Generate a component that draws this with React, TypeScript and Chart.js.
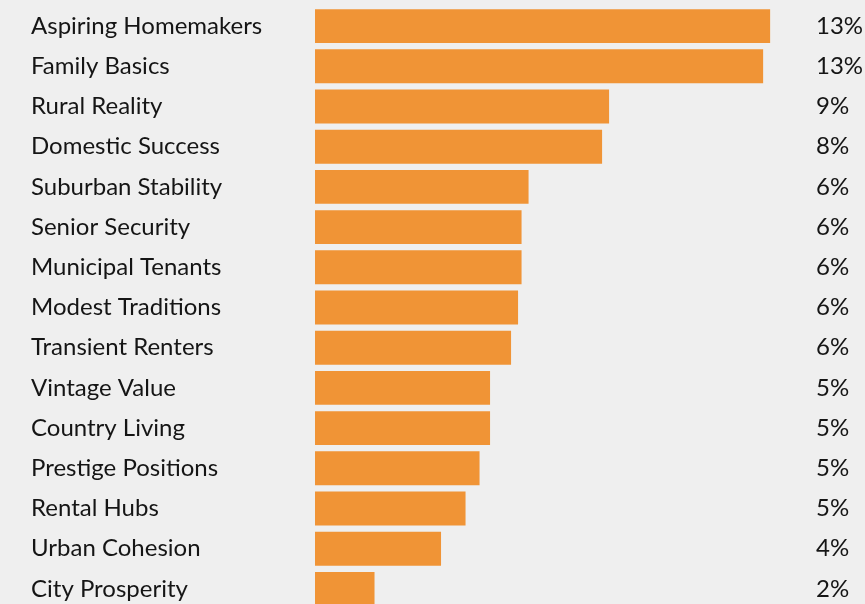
import React, { useEffect, useRef } from 'react';
import { Chart, registerables } from 'chart.js';

Chart.register(...registerables);

const categories = [
  'Aspiring Homemakers',
  'Family Basics',
  'Rural Reality',
  'Domestic Success',
  'Suburban Stability',
  'Senior Security',
  'Municipal Tenants',
  'Modest Traditions',
  'Transient Renters',
  'Vintage Value',
  'Country Living',
  'Prestige Positions',
  'Rental Hubs',
  'Urban Cohesion',
  'City Prosperity',
];

const values = [13.0, 12.8, 8.4, 8.2, 6.1, 5.9, 5.9, 5.8, 5.6, 5.0, 5.0, 4.7, 4.3, 3.6, 1.7];

const pctLabels = ['13%', '13%', '9%', '8%', '6%', '6%', '6%', '6%', '6%', '5%', '5%', '5%', '5%', '4%', '2%'];

const FONT = { family: 'Lato', size: 24, lineHeight: 0.45 };

export default function App() {
  const ref = useRef<HTMLCanvasElement | null>(null);

  useEffect(() => {
    if (!ref.current) return;
    const chart = new Chart(ref.current, {
      type: 'bar',
      data: {
        labels: categories,
        datasets: [
          {
            data: values,
            backgroundColor: '#f09436',
            borderWidth: 0,
            barPercentage: 0.843,
            categoryPercentage: 1,
          },
        ],
      },
      options: {
        indexAxis: 'y',
        animation: false,
        responsive: false,
        maintainAspectRatio: false,
        layout: { padding: { left: 31, right: 0, top: 6, bottom: 6 } },
        plugins: { legend: { display: false }, tooltip: { enabled: false } },
        scales: {
          x: { display: false, min: 0, max: 14.31 },
          y: {
            grid: { display: false, drawTicks: false },
            border: { display: false },
            ticks: {
              crossAlign: 'far',
              padding: 0,
              color: '#151515',
              font: FONT,
              autoSkip: false,
            },
            afterFit: (s: any) => {
              s.width = 284;
            },
          },
          y2: {
            type: 'category',
            position: 'right',
            labels: pctLabels,
            offset: true,
            grid: { display: false, drawTicks: false },
            border: { display: false },
            ticks: {
              crossAlign: 'near',
              padding: 0,
              color: '#151515',
              font: FONT,
              autoSkip: false,
            },
            afterFit: (s: any) => {
              s.width = 49;
            },
          },
        },
      },
    });
    return () => chart.destroy();
  }, []);

  return (
    <div
      style={{
        position: 'fixed',
        left: 0,
        top: 0,
        width: 865,
        height: 604,
        overflow: 'hidden',
        background: '#efefef',
      }}
    >
      <canvas ref={ref} width={865} height={615} style={{ display: 'block', width: 865, height: 615 }} />
    </div>
  );
}
